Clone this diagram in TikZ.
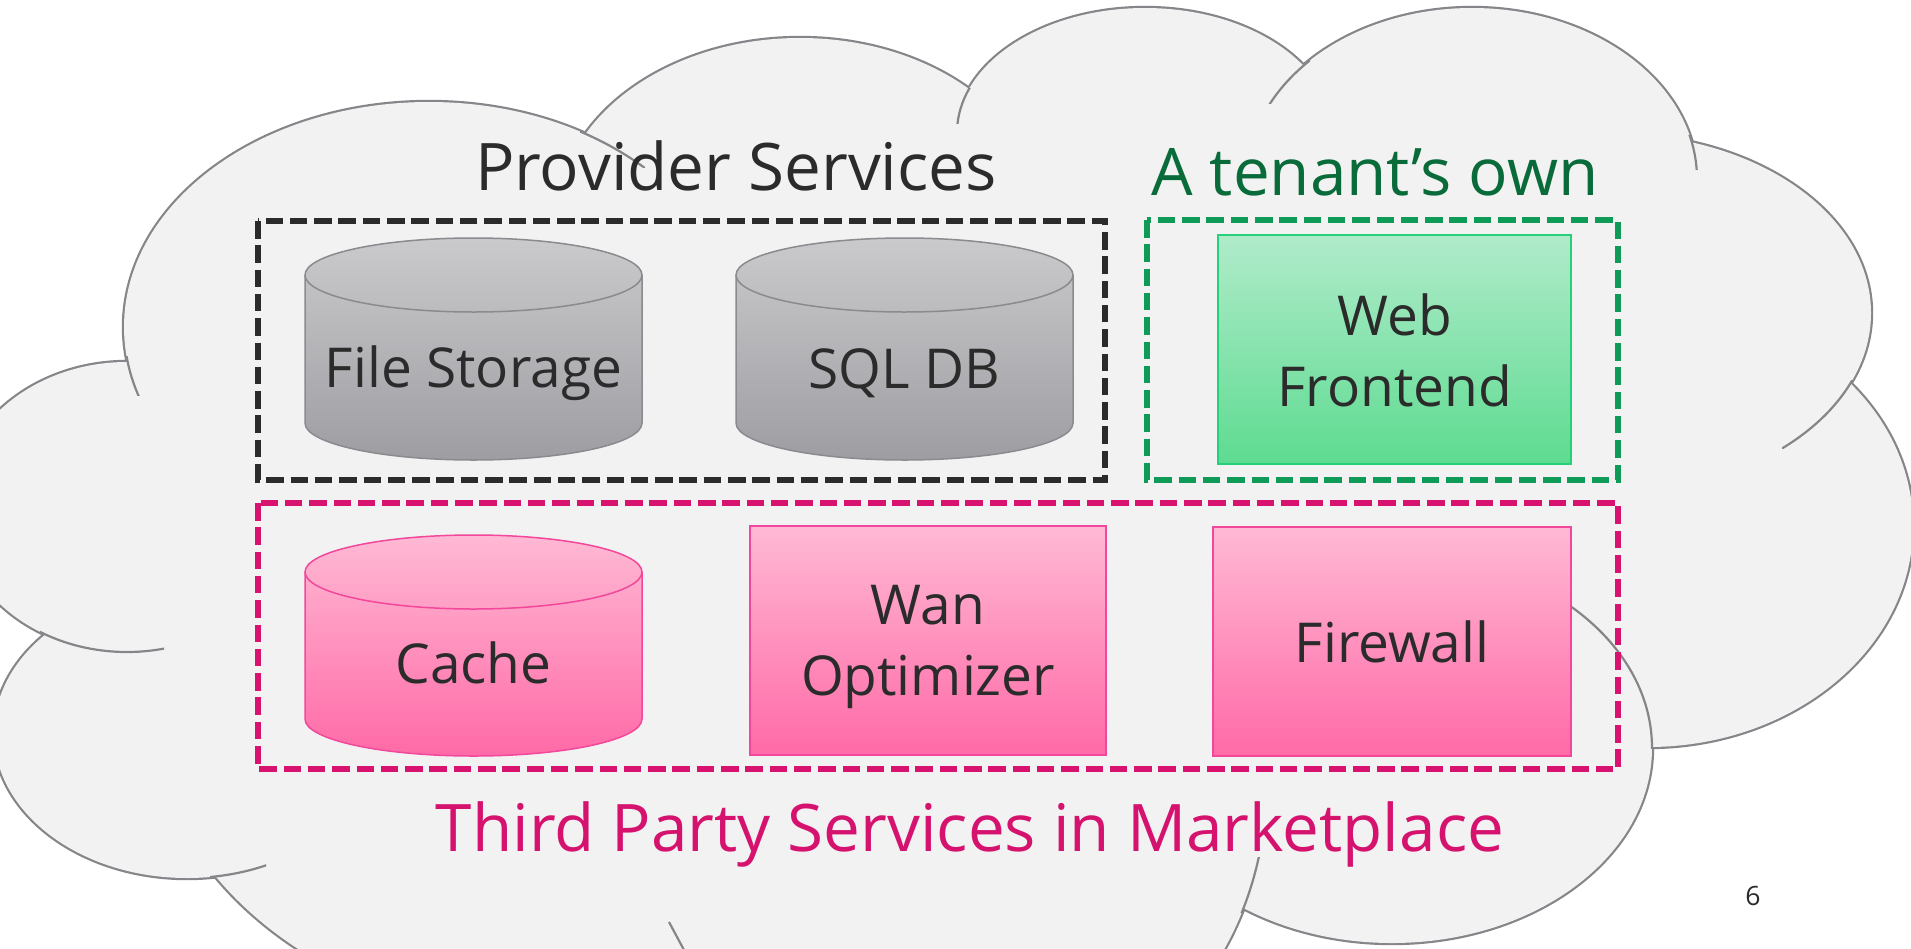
\documentclass[tikz,border=0pt]{standalone}
\usepackage{fontspec}
\setmainfont{Open Sans}

\definecolor{cloudfill}{HTML}{F2F2F2}
\definecolor{cloudline}{HTML}{86868A}
\definecolor{provline}{HTML}{2B2B2B}
\definecolor{tenantline}{HTML}{0E9A57}
\definecolor{marketline}{HTML}{D8126F}
\definecolor{tenanttext}{HTML}{0A6B3A}
\definecolor{markettext}{HTML}{D5136F}
\definecolor{inktext}{HTML}{2B2B2B}
\definecolor{dbtop}{HTML}{CACACC}
\definecolor{dbbottom}{HTML}{9E9DA2}
\definecolor{dbline}{HTML}{8A8A8F}
\definecolor{pinktop}{HTML}{FFB9D4}
\definecolor{pinkbottom}{HTML}{FF6AA7}
\definecolor{pinkline}{HTML}{F2479A}
\definecolor{greentop}{HTML}{B0EBCA}
\definecolor{greenbottom}{HTML}{5EDB91}
\definecolor{greenline}{HTML}{26D07A}

% cloud lobes: centre and radii, in pixels (y grows downwards)
\def\lobeA{(429,327) ellipse [x radius=305pt, y radius=225pt]}
\def\lobeB{(800,219) ellipse [x radius=243pt, y radius=181pt]}
\def\lobeC{(1145,133) ellipse [x radius=188pt, y radius=125pt]}
\def\lobeD{(1472,179) ellipse [x radius=225pt, y radius=171pt]}
\def\lobeE{(1614,313) ellipse [x radius=257pt, y radius=179pt]}
\def\lobeF{(1648,526) ellipse [x radius=265pt, y radius=221pt]}
\def\lobeG{(1392,748) ellipse [x radius=260pt, y radius=195pt]}
\def\lobeH{(1021,780) ellipse [x radius=246pt, y radius=300pt]}
\def\lobeJ{(560,700) ellipse [x radius=411pt, y radius=323pt]}
\def\lobeK{(187,733) ellipse [x radius=193pt, y radius=145pt]}
\def\lobeL{(127,507) ellipse [x radius=171pt, y radius=145pt]}

% database drum: #1 centre x, #2 lid centre y, #3 base centre y,
% #4 half width, #5 lid half height, #6 top colour, #7 bottom colour, #8 outline
\newcommand\drumshape[8]{%
  \shadedraw[top color=#6, bottom color=#7, draw=#8, line width=1.5pt]
    ({#1-#4},#2) -- ({#1-#4},#3)
    arc[start angle=180, end angle=360, x radius=#4pt, y radius=#5pt]
    -- ({#1+#4},#2)
    arc[start angle=0, end angle=180, x radius=#4pt, y radius=#5pt] -- cycle;
  \draw[draw=#8, line width=1.5pt] ({#1-#4},#2)
    arc[start angle=180, end angle=360, x radius=#4pt, y radius=#5pt];
}

\begin{document}
\begin{tikzpicture}[x=1pt, y=-1pt,
  cloudedge/.style={draw=cloudline, line width=4.4pt},
  cloudtail/.style={draw=cloudline, line width=2.2pt},
  groupbox/.style={line width=5.8pt, dash pattern=on 17.5pt off 6.8pt},
  provbox/.style={groupbox, draw=provline},
  tenantbox/.style={groupbox, draw=tenantline},
  marketbox/.style={groupbox, draw=marketline},
  greenblock/.style={top color=greentop, bottom color=greenbottom, draw=greenline, line width=2pt},
  pinkblock/.style={top color=pinktop, bottom color=pinkbottom, draw=pinkline, line width=2pt},
  title/.style={font=\fontsize{65.6}{79}\selectfont, anchor=base, inner sep=0pt},
  tag/.style={font=\fontsize{55}{71}\selectfont, anchor=base, inner sep=0pt, text=inktext}]

\useasboundingbox (0,0) rectangle (1911,948);
\fill[white] (0,0) rectangle (1911,948);

% ---------- the cloud ----------
\begin{scope}
  \clip (0,0) rectangle (1911,948);
  \path[cloudedge] \lobeA \lobeB \lobeC \lobeD \lobeE \lobeF
                   \lobeG \lobeH \lobeJ \lobeK \lobeL;
  \fill[cloudfill] \lobeA \lobeB \lobeC \lobeD \lobeE \lobeF
                   \lobeG \lobeH \lobeJ \lobeK \lobeL;
  \fill[cloudfill] (142,363) -- (598,144) -- (968,104) -- (1295,77)
    -- (1678,148) -- (1835,385) -- (1636,742) -- (1238,898)
    -- (1205,960) -- (325,960) -- (228,868) -- (62,632) -- cycle;
  % inner ends of the lobe arcs
  \begin{scope}\clip (100,356) rectangle (150,395); \path[cloudtail] \lobeA; \end{scope}
  \begin{scope}\clip (580,125) rectangle (645,167); \path[cloudtail] \lobeA; \end{scope}
  \begin{scope}\clip (945,88) rectangle (975,123); \path[cloudtail] \lobeC; \end{scope}
  \begin{scope}\clip (1262,60) rectangle (1310,103); \path[cloudtail] \lobeD; \end{scope}
  \begin{scope}\clip (1680,135) rectangle (1705,169); \path[cloudtail] \lobeD; \end{scope}
  \begin{scope}\clip (1782,380) rectangle (1860,448); \path[cloudtail] \lobeE; \end{scope}
  \begin{scope}\clip (1560,595) rectangle (1655,748); \path[cloudtail] \lobeG; \end{scope}
  \begin{scope}\clip (1238,857) rectangle (1268,912); \path[cloudtail] \lobeH; \end{scope}
  \begin{scope}\clip (210,855) rectangle (266,880); \path[cloudtail] \lobeK; \end{scope}
  \begin{scope}\clip (40,620) rectangle (164,660); \path[cloudtail] \lobeL; \end{scope}
  \coordinate (itailtop) at (669,922);
  \coordinate (itailbot) at (684,950);
  \path[cloudtail] (itailtop) -- (itailbot);
\end{scope}

% ---------- group frames ----------
\draw[provbox] (258,221) rectangle (1105,480);
\draw[tenantbox] (1147,220) rectangle (1618,480);
\draw[marketbox] (258,503) rectangle (1618,769);

% ---------- provider services ----------
\drumshape{473.5}{275}{423}{168.5}{37}{dbtop}{dbbottom}{dbline}
\drumshape{904.5}{275}{423}{168.5}{37}{dbtop}{dbbottom}{dbline}
\node[tag] (filestorage) at (473.5,387) {File Storage};
\node[tag] (sqldb) at (904.5,388) {SQL DB};

% ---------- tenant's own ----------
\path[greenblock] (1218,235) rectangle (1571,464);
\node[tag] (webfrontend) at (1394.5,335) {\begin{tabular}[t]{@{}c@{}}Web\\Frontend\end{tabular}};

% ---------- marketplace ----------
\drumshape{473.5}{572}{719}{168.5}{37}{pinktop}{pinkbottom}{pinkline}
\node[tag] (cache) at (473.5,683) {Cache};
\path[pinkblock] (750,526) rectangle (1106,755);
\node[tag] (wanopt) at (928,624) {\begin{tabular}[t]{@{}c@{}}Wan\\Optimizer\end{tabular}};
\path[pinkblock] (1213,527) rectangle (1571,756);
\node[tag] (firewall) at (1392,662) {Firewall};

% ---------- headings ----------
\node[title, text=inktext] (provtitle) at (736,190) {Provider Services};
\node[title, text=tenanttext] (tenanttitle) at (1375,195) {A tenant’s own};
\node[title, text=markettext] (markettitle) at (970,851) {Third Party Services in Marketplace};

\node[font=\fontsize{26.6}{32}\selectfont, anchor=base, inner sep=0pt, text=inktext] (pagenum) at (1753,905) {6};
\end{tikzpicture}
\end{document}
